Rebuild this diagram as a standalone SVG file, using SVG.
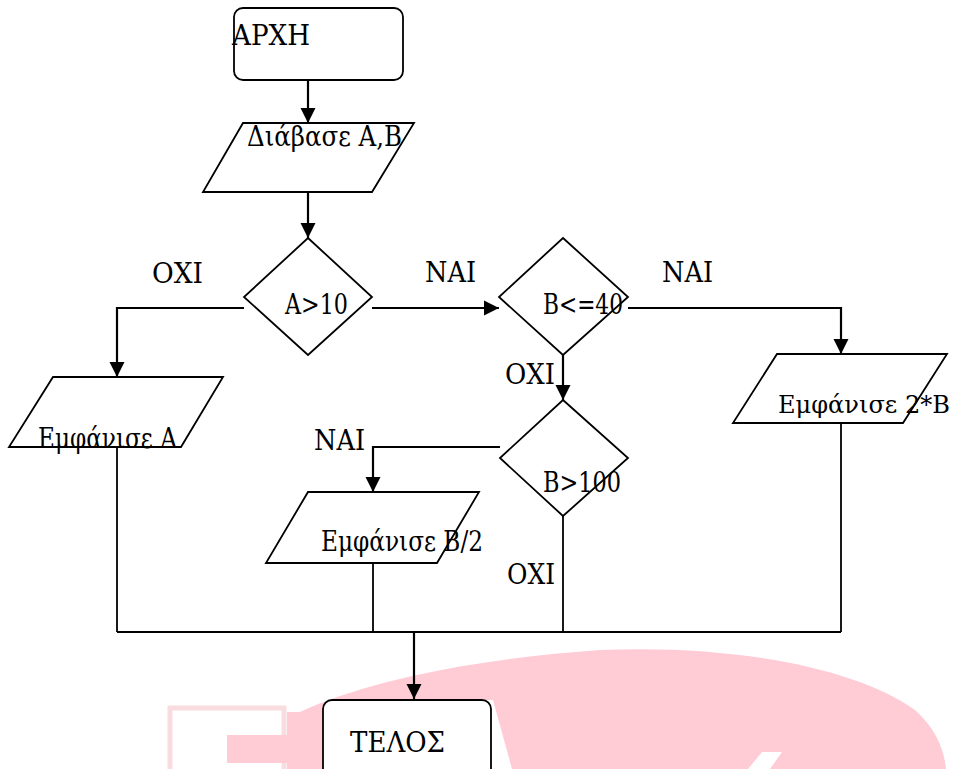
<svg xmlns="http://www.w3.org/2000/svg" width="958" height="769" viewBox="0 0 958 769">
<style>
.t{font-family:"DejaVu Serif","Liberation Serif",serif;font-size:27px;fill:#000}
.s{fill:#fff;stroke:#000;stroke-width:1.8}
.c{fill:none;stroke:#000;stroke-width:1.8}
.a{fill:none;stroke:#000;stroke-width:2.2}
</style>
<defs>
<marker id="ah" viewBox="0 0 10 10" refX="10" refY="5" markerWidth="7" markerHeight="7" markerUnits="strokeWidth" orient="auto">
<path d="M0,0 L10,5 L0,10 z" fill="#000"/>
</marker>
</defs>
<g id="watermark">
<rect x="170" y="708" width="114" height="70" fill="none" stroke="#F9DCE0" stroke-width="5"/>
<rect x="227" y="735" width="62" height="28" fill="#FFCCD6"/>
<path d="M287,769 L287,712 L300,712 C360,684 460,660 600,650 C740,644 860,670 915,710 C935,728 944,748 946,769 Z" fill="#FFCCD6"/>
<polygon points="440,700 493,700 512,769 455,769" fill="#fff"/>
<polygon points="762,752 782,752 770,769 748,769" fill="#fff"/>
</g>
<g id="connectors">
<line class="a" x1="308" y1="80" x2="308" y2="123" marker-end="url(#ah)"/>
<line class="a" x1="308" y1="192" x2="308" y2="238" marker-end="url(#ah)"/>
<polyline class="a" points="244,308 117,308 117,377" marker-end="url(#ah)"/>
<line class="a" x1="372" y1="308" x2="499" y2="308" marker-end="url(#ah)"/>
<polyline class="a" points="628,308 841,308 841,354" marker-end="url(#ah)"/>
<line class="a" x1="563" y1="355" x2="563" y2="400" marker-end="url(#ah)"/>
<polyline class="a" points="500,447 373,447 373,492" marker-end="url(#ah)"/>
<line class="c" x1="117" y1="447" x2="117" y2="632"/>
<line class="c" x1="373" y1="563" x2="373" y2="632"/>
<line class="c" x1="563" y1="516" x2="563" y2="632"/>
<line class="c" x1="841" y1="423" x2="841" y2="632"/>
<line class="c" x1="117" y1="632" x2="841" y2="632"/>
<line class="a" x1="414" y1="632" x2="414" y2="699" marker-end="url(#ah)"/>
<text class="t" x="152" y="283" textLength="51" lengthAdjust="spacingAndGlyphs">ΟΧΙ</text>
<text class="t" x="425" y="282" textLength="51" lengthAdjust="spacingAndGlyphs">ΝΑΙ</text>
<text class="t" x="662" y="282" textLength="51" lengthAdjust="spacingAndGlyphs">ΝΑΙ</text>
<text class="t" x="505" y="384" textLength="50" lengthAdjust="spacingAndGlyphs">ΟΧΙ</text>
<text class="t" x="314" y="450" textLength="51" lengthAdjust="spacingAndGlyphs">ΝΑΙ</text>
<text class="t" x="507" y="584" textLength="48" lengthAdjust="spacingAndGlyphs">ΟΧΙ</text>
</g>
<g id="start">
<rect class="s" x="234" y="8" width="169" height="72" rx="9"/>
<text class="t" x="232" y="45" textLength="78" lengthAdjust="spacingAndGlyphs">ΑΡΧΗ</text>
</g>
<g id="read">
<polygon class="s" points="243,123 414,123 372,192 203,192"/>
<text class="t" x="247" y="146" textLength="155" lengthAdjust="spacingAndGlyphs">Διάβασε Α,Β</text>
</g>
<g id="dec1">
<polygon class="s" points="308,238 372,297 308,355 244,297"/>
<text class="t" x="285" y="314" textLength="63" lengthAdjust="spacingAndGlyphs">Α&gt;10</text>
</g>
<g id="dec2">
<polygon class="s" points="563,238 628,297 563,355 499,297"/>
<text class="t" x="543" y="314" textLength="80" lengthAdjust="spacingAndGlyphs">Β&lt;=40</text>
</g>
<g id="outA">
<polygon class="s" points="53,377 223,377 181,447 9,447"/>
<text class="t" x="38" y="448" textLength="139" lengthAdjust="spacingAndGlyphs">Εμφάνισε Α</text>
</g>
<g id="out2B">
<polygon class="s" points="777,354 947,354 903,423 733,423"/>
<text class="t" x="778" y="413" style="font-size:24px" textLength="172" lengthAdjust="spacingAndGlyphs">Εμφάνισε 2*Β</text>
</g>
<g id="dec3">
<polygon class="s" points="563,400 628,458 563,516 500,458"/>
<text class="t" x="543" y="492" textLength="78" lengthAdjust="spacingAndGlyphs">Β&gt;100</text>
</g>
<g id="outB2">
<polygon class="s" points="308,492 479,492 437,563 266,563"/>
<text class="t" x="321" y="551" textLength="162" lengthAdjust="spacingAndGlyphs">Εμφάνισε Β/2</text>
</g>
<g id="end">
<rect class="s" x="323" y="700" width="168" height="80" rx="9"/>
<text class="t" x="350" y="752" textLength="95" lengthAdjust="spacingAndGlyphs">ΤΕΛΟΣ</text>
</g>
</svg>
